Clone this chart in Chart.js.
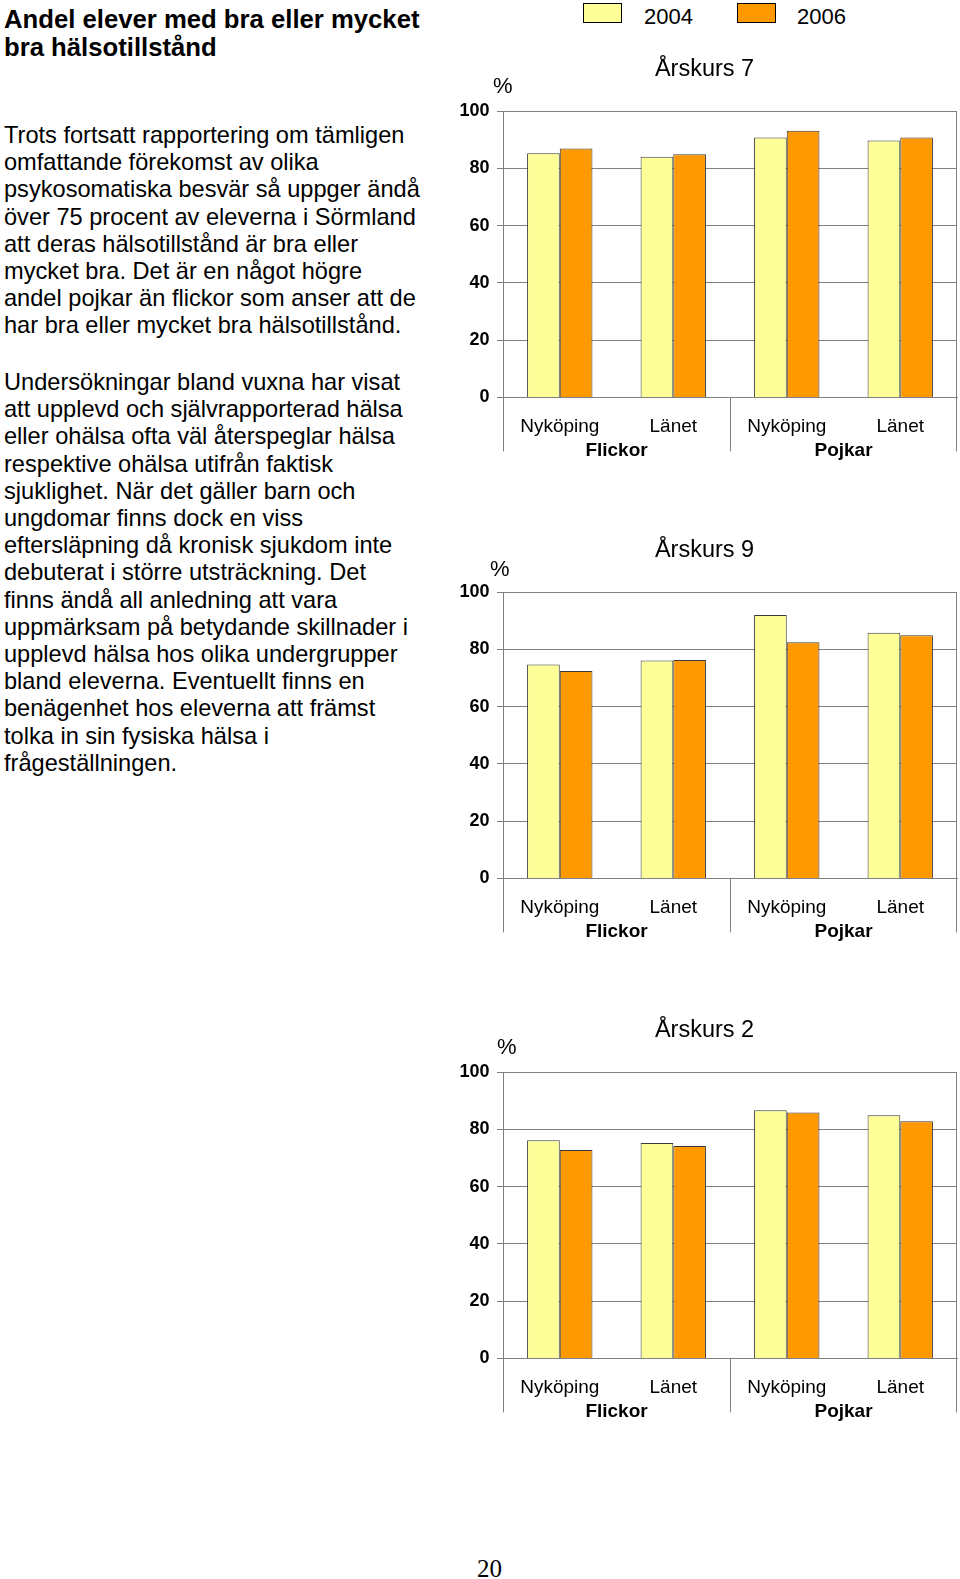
<!DOCTYPE html>
<html>
<head>
<meta charset="utf-8">
<script src="https://cdn.jsdelivr.net/npm/chart.js@4/dist/chart.umd.min.js"></script>
<style>
    body { margin: 0; width: 960px; height: 1579px; background: #fff; position: relative; font-family: "Liberation Sans", Arial, sans-serif; color: #000; overflow: hidden; }
    .title { position: absolute; left: 4px; top: 5px; font-size: 25.7px; font-weight: bold; line-height: 28px; }
    .para { position: absolute; left: 4px; font-size: 23.6px; line-height: 27.2px; }
    .box { position: absolute; width: 508px; height: 426px; left: 452px; }
    .pct { position: absolute; font-size: 22px; }
    .leg { position: absolute; top: 3px; width: 37px; height: 18px; border: 1.5px solid #000; }
    .legtxt { position: absolute; top: 4px; font-size: 22px; }
    .pageno { position: absolute; left: 477px; top: 1555px; font-family: "Liberation Serif", "Times New Roman", serif; font-size: 25px; }
</style>
</head>
<body>
<div class="title">Andel elever med bra eller mycket<br>bra hälsotillstånd</div>
<div class="para" style="top:122px">Trots fortsatt rapportering om tämligen<br>omfattande förekomst av olika<br>psykosomatiska besvär så uppger ändå<br>över 75 procent av eleverna i Sörmland<br>att deras hälsotillstånd är bra eller<br>mycket bra. Det är en något högre<br>andel pojkar än flickor som anser att de<br>har bra eller mycket bra hälsotillstånd.</div>
<div class="para" style="top:369px">Undersökningar bland vuxna har visat<br>att upplevd och självrapporterad hälsa<br>eller ohälsa ofta väl återspeglar hälsa<br>respektive ohälsa utifrån faktisk<br>sjuklighet. När det gäller barn och<br>ungdomar finns dock en viss<br>eftersläpning då kronisk sjukdom inte<br>debuterat i större utsträckning. Det<br>finns ändå all anledning att vara<br>uppmärksam på betydande skillnader i<br>upplevd hälsa hos olika undergrupper<br>bland eleverna. Eventuellt finns en<br>benägenhet hos eleverna att främst<br>tolka in sin fysiska hälsa i<br>frågeställningen.</div>

<div class="leg" id="leg0" style="left:583px"></div>
<div class="legtxt" id="legtxt0" style="left:644px"></div>
<div class="leg" id="leg1" style="left:737px"></div>
<div class="legtxt" id="legtxt1" style="left:797px"></div>

<div class="box" style="top:37px"><canvas id="ak7"></canvas></div>
<div class="box" style="top:518px"><canvas id="ak9"></canvas></div>
<div class="box" style="top:998px"><canvas id="ak2"></canvas></div>
<div class="pct" style="left:493px; top:73px">%</div>
<div class="pct" style="left:490px; top:556px">%</div>
<div class="pct" style="left:497px; top:1034px">%</div>
<div class="pageno">20</div>

<script>
    // Categories and groups
    const categories = ['Nyköping', 'Länet', 'Nyköping', 'Länet'];
    const groups = ['Flickor', 'Pojkar'];
    const years = ['2004', '2006'];
    const yearColors = ['#FFFF99', '#FF9900'];
    const yMin = 0, yMax = 100, yStep = 20;

    // Andel (%) med bra eller mycket bra hälsotillstånd
    const ak7_2004 = [85.3, 84.1, 90.8, 89.8];
    const ak7_2006 = [87.0, 85.0, 93.2, 90.8];
    const ak9_2004 = [74.7, 76.1, 92.0, 85.8];
    const ak9_2006 = [72.5, 76.3, 82.5, 85.0];
    const ak2_2004 = [76.2, 75.3, 86.7, 85.0];
    const ak2_2006 = [72.8, 74.2, 85.9, 82.9];

    Chart.defaults.font.family = '"Liberation Sans", Arial, sans-serif';
    Chart.defaults.color = '#000';
    Chart.defaults.animation = false;

    // legend (html, colours from the same arrays)
    years.forEach((y, i) => {
        document.getElementById('leg' + i).style.background = yearColors[i];
        document.getElementById('legtxt' + i).textContent = y;
    });

    // draws right border and the group separator lines under the axis
    const groupLines = {
        id: 'groupLines',
        afterDraw(chart) {
            const ctx = chart.ctx;
            const area = chart.chartArea;
            const x = chart.scales.x;
            const mid = (x.getPixelForValue(1) + x.getPixelForValue(2)) / 2;
            const bottom = area.bottom + 54;
            ctx.save();
            ctx.strokeStyle = '#808080';
            ctx.lineWidth = 1;
            ctx.beginPath();
            ctx.moveTo(Math.round(area.right) - 0.5, area.top);
            ctx.lineTo(Math.round(area.right) - 0.5, bottom);
            ctx.moveTo(Math.round(area.left) + 0.5, area.bottom);
            ctx.lineTo(Math.round(area.left) + 0.5, bottom);
            ctx.moveTo(Math.round(mid) + 0.5, area.bottom);
            ctx.lineTo(Math.round(mid) + 0.5, bottom);
            ctx.stroke();
            ctx.restore();
        }
    };

    function makeChart(id, title, data2004, data2006) {
        const ctx = document.getElementById(id).getContext('2d');
        return new Chart(ctx, {
            type: 'bar',
            data: {
                labels: categories,
                datasets: [
                    { label: years[0], data: data2004, backgroundColor: yearColors[0], borderColor: '#3a3a3a', borderWidth: 1 },
                    { label: years[1], data: data2006, backgroundColor: yearColors[1], borderColor: '#3a3a3a', borderWidth: 1 }
                ]
            },
            options: {
                responsive: true,
                maintainAspectRatio: false,
                categoryPercentage: 0.576,
                barPercentage: 1,
                layout: { padding: { left: 0, right: 3, top: 0, bottom: 0 } },
                plugins: {
                    legend: { display: false },
                    tooltip: { enabled: false },
                    title: {
                        display: true,
                        text: title,
                        font: { size: 23.5, weight: 'normal' },
                        color: '#000',
                        padding: { top: 18, bottom: 28 }
                    }
                },
                scales: {
                    x: {
                        grid: { display: true, drawOnChartArea: false, drawTicks: true, tickLength: 17.6, color: 'rgba(0,0,0,0)' },
                        border: { display: true, color: '#808080' },
                        ticks: { font: { size: 19 }, padding: 0, maxRotation: 0 }
                    },
                    x2: {
                        type: 'category',
                        position: 'bottom',
                        labels: groups,
                        offset: true,
                        grid: { display: false, drawTicks: false },
                        border: { display: false },
                        ticks: { font: { size: 19, weight: 'bold' }, padding: 1.2, maxRotation: 0 }
                    },
                    y: {
                        min: yMin,
                        max: yMax,
                        ticks: { stepSize: yStep, font: { size: 18, weight: 'bold' }, padding: 7.5 },
                        grid: { color: '#808080', tickLength: 6 },
                        border: { color: '#808080' }
                    }
                }
            },
            plugins: [groupLines]
        });
    }

    makeChart('ak7', 'Årskurs 7', ak7_2004, ak7_2006);
    makeChart('ak9', 'Årskurs 9', ak9_2004, ak9_2006);
    makeChart('ak2', 'Årskurs 2', ak2_2004, ak2_2006);
</script>
</body>
</html>
